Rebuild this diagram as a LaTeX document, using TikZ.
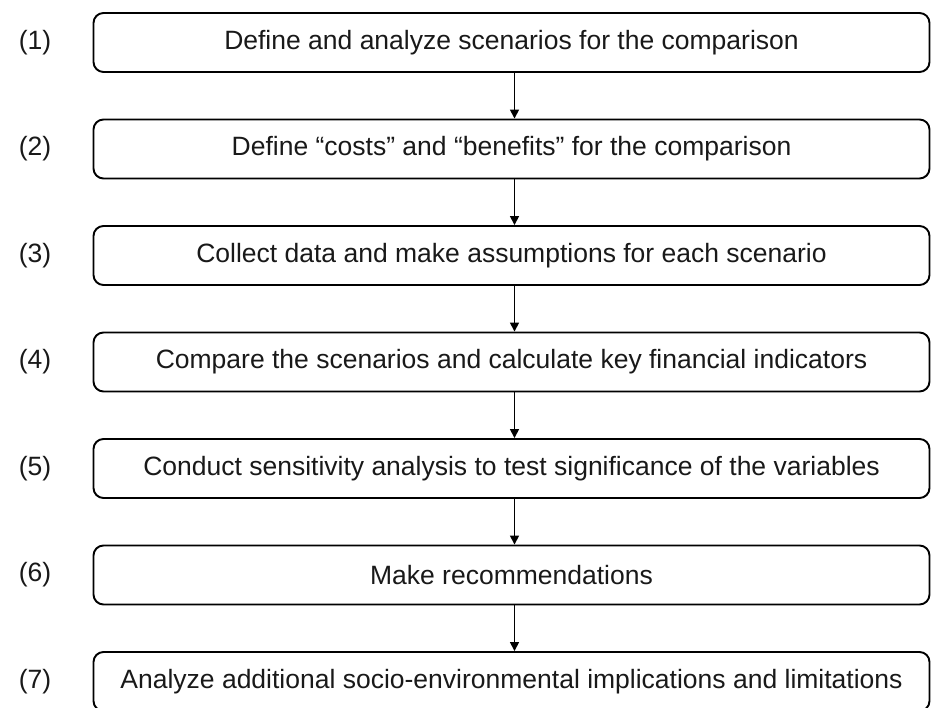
\documentclass[tikz,border=0pt]{standalone}
\usepackage{fontspec}
\setmainfont{Liberation Sans}
\usetikzlibrary{arrows.meta}
\begin{document}
\begin{tikzpicture}[x=1pt,y=1pt,
  stepbox/.style={draw=black, line width=1.9pt, rounded corners=10pt, minimum width=836pt, minimum height=59pt, inner sep=0pt},
  steptext/.style={font=\fontsize{26.5}{30}\selectfont, text=black!90},
  numlabel/.style={font=\fontsize{26.5}{30}\selectfont, text=black!90},
  flow/.style={line width=1.6pt, -{Triangle[length=9pt,width=9pt]}}]
\useasboundingbox (0,0) rectangle (931,708);
\begin{scope}
\clip (0,0) rectangle (931,708);
\foreach \i in {1,...,7} {
  \node[stepbox] (b\i) at (511.5, {708-42.5-(\i-1)*106.5}) {};
  \node[numlabel] (n\i) at (35, {708-42.5-(\i-1)*106.5}) {(\i)};
}
\node[steptext] (t1) at (b1.center) {Define and analyze scenarios for the comparison};
\node[steptext] (t2) at (b2.center) {Define “costs” and “benefits” for the comparison};
\node[steptext] (t3) at (b3.center) {Collect data and make assumptions for each scenario};
\node[steptext] (t4) at (b4.center) {Compare the scenarios and calculate key financial indicators};
\node[steptext] (t5) at (b5.center) {Conduct sensitivity analysis to test significance of the variables};
\node[steptext] (t6) at (b6.center) {Make recommendations};
\node[steptext] (t7) at (b7.center) {Analyze additional socio-environmental implications and limitations};
\foreach \a/\b in {1/2,2/3,3/4,4/5,5/6,6/7}
  \draw[flow] ([xshift=3pt]b\a.south) -- ([xshift=3pt]b\b.north);
\end{scope}
\end{tikzpicture}
\end{document}
